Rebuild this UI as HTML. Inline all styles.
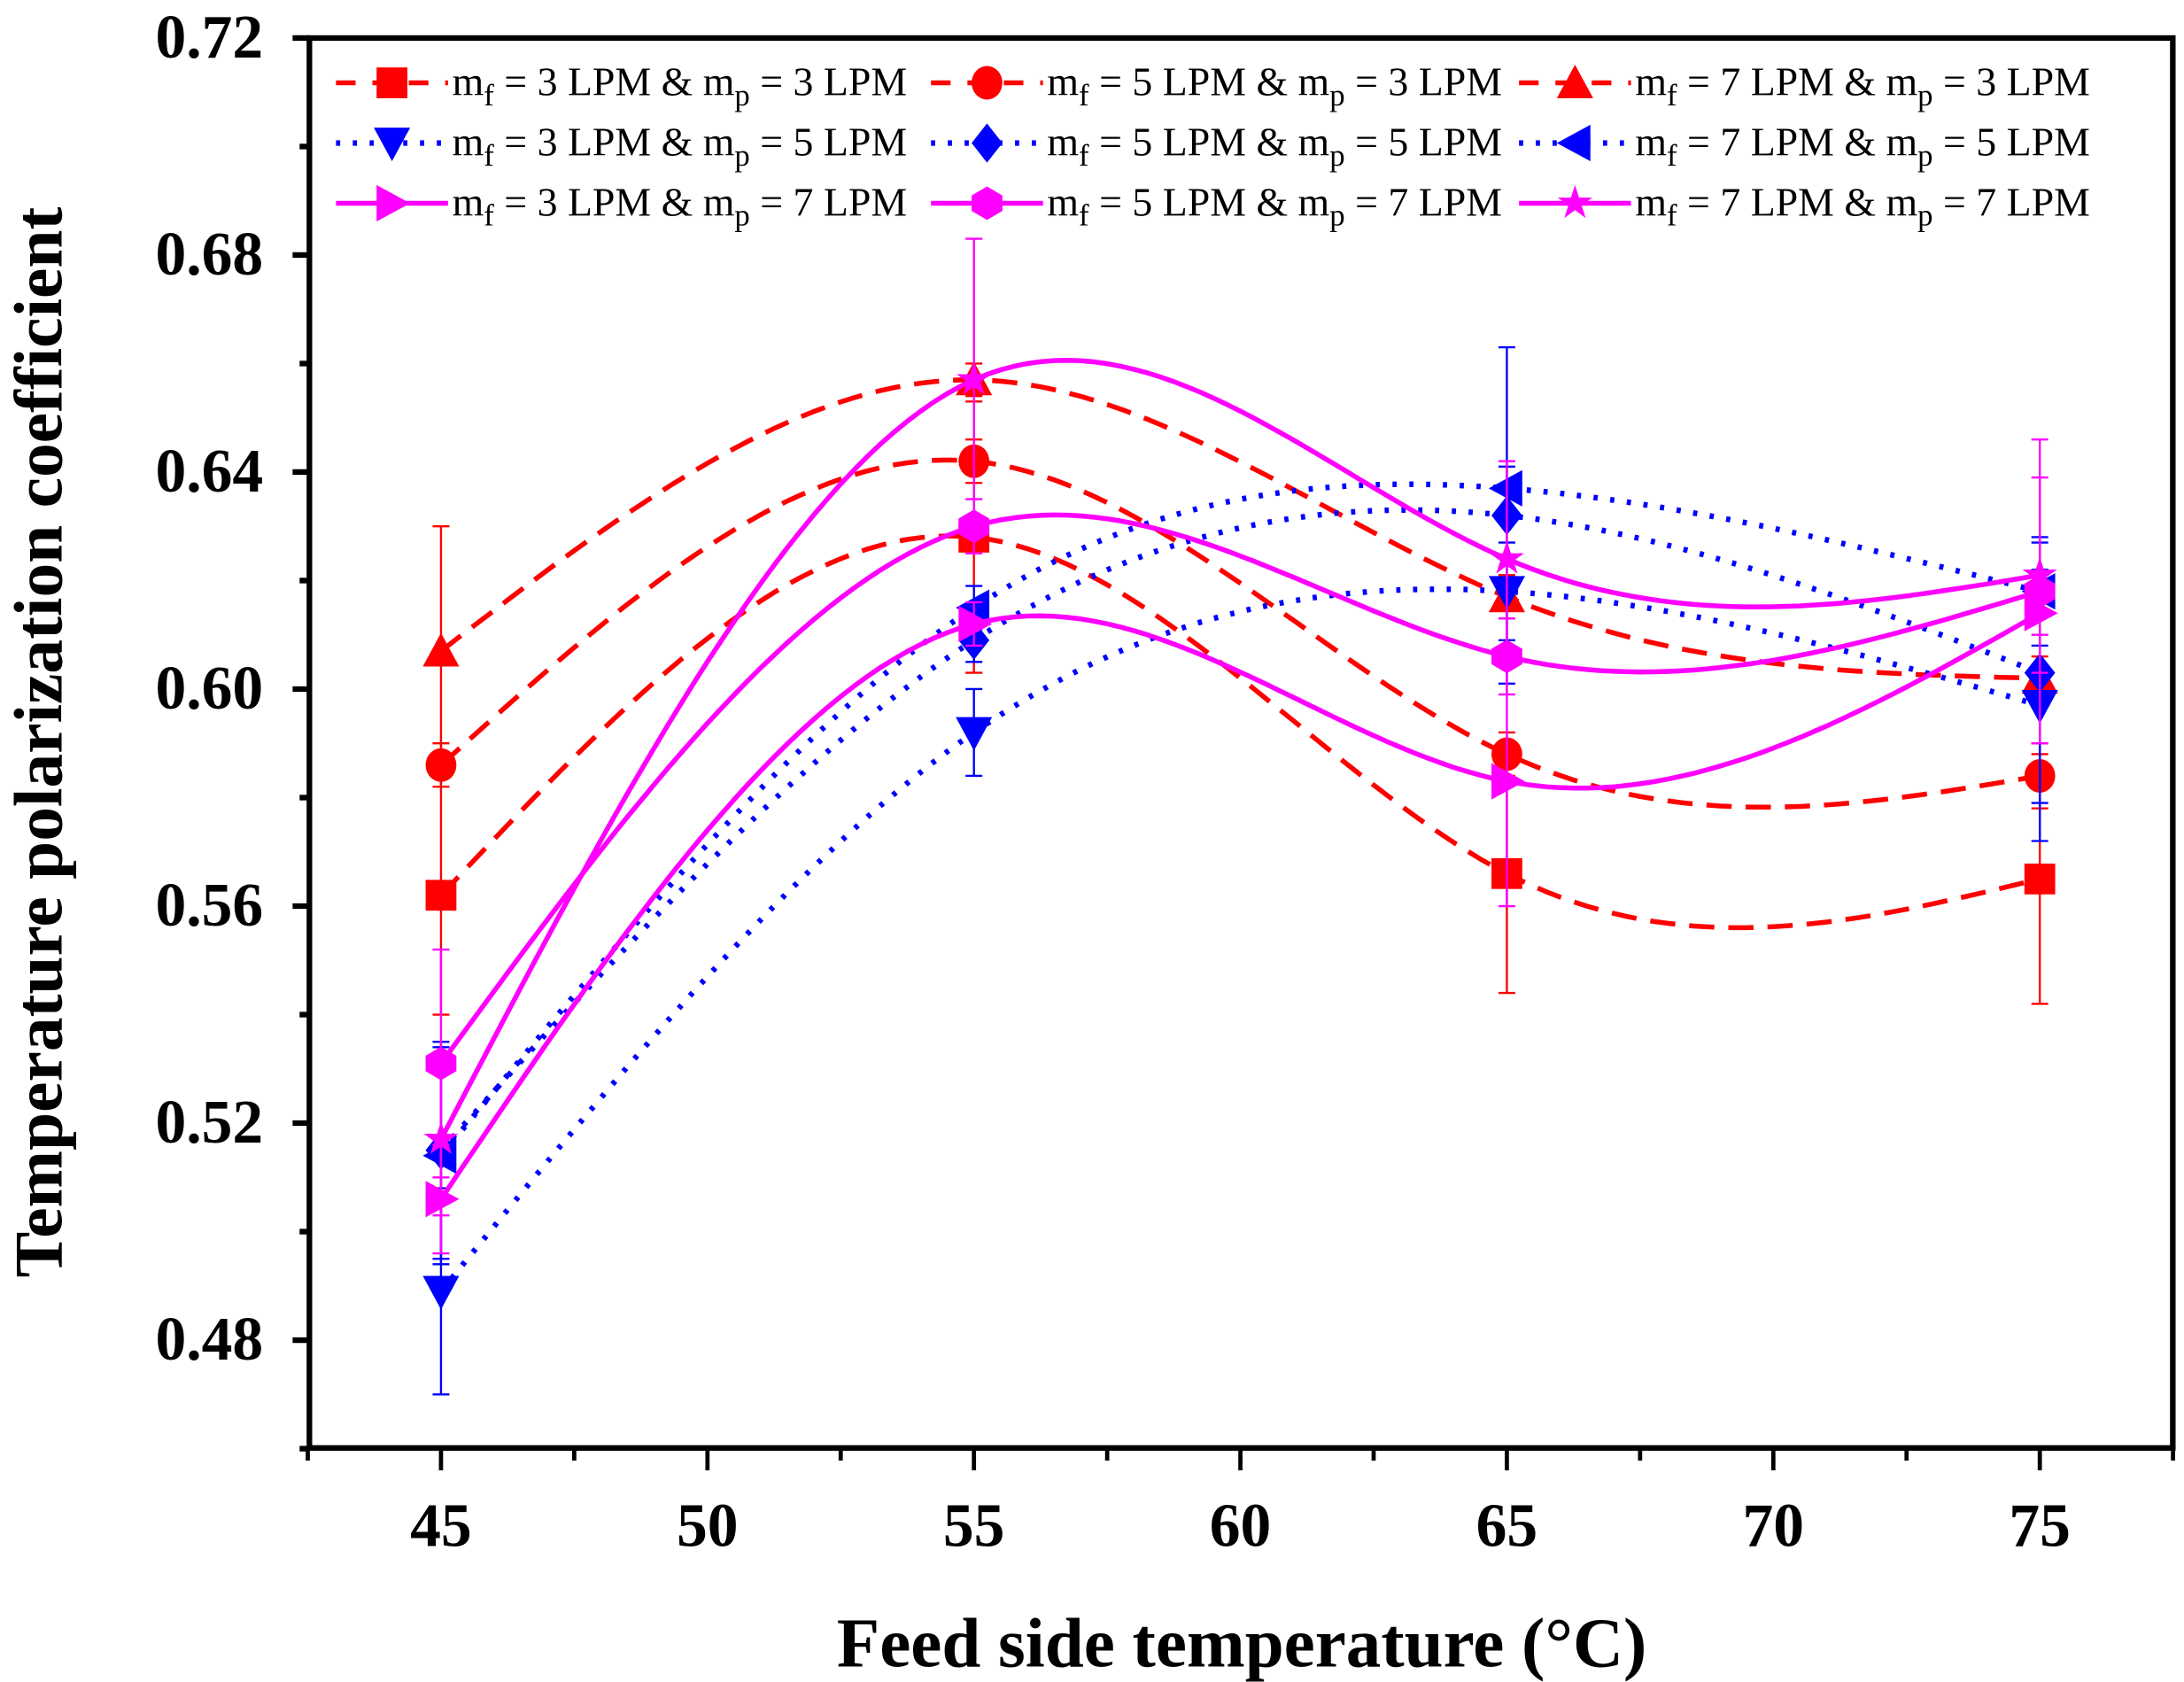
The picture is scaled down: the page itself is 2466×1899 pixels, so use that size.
<!DOCTYPE html>
<html><head><meta charset="utf-8"><style>
html,body{margin:0;padding:0;background:#fff}
svg{display:block}
text{font-family:"Liberation Serif",serif}
</style></head><body>
<svg id="chart" width="2466" height="1899" viewBox="0 0 1560 1201" xmlns="http://www.w3.org/2000/svg">
<g id="axes"></g>
<g id="series"></g>
<g id="legend"></g>
<text x="887" y="1190" font-size="50" font-weight="bold" text-anchor="middle">Feed side temperature (°C)</text>
<text transform="translate(44,530) rotate(-90)" font-size="49" font-weight="bold" text-anchor="middle">Temperature polarization coefficient</text>
</svg>
<script>
const xCats=[45,55,65,75];
const yTicks=[0.48,0.52,0.56,0.60,0.64,0.68,0.72];
const xTicks=[45,50,55,60,65,70,75];
const s1=[0.562,0.628,0.566,0.565];
const s2=[0.586,0.642,0.588,0.584];
const s3=[0.607,0.657,0.617,0.602];
const s4=[0.489,0.592,0.618,0.597];
const s5=[0.515,0.609,0.632,0.603];
const s6=[0.514,0.615,0.637,0.618];
const s7=[0.506,0.612,0.583,0.614];
const s8=[0.531,0.630,0.606,0.618];
const s9=[0.517,0.657,0.624,0.621];
const e1=[0.022,0.025,0.022,0.023];
const e2=[0.004,0.004,0.004,0.006];
const e3=[0.023,0.003,0.004,0.004];
const e4=[0.019,0.008,0.009,0.025];
const e5=[0.02,0.004,0.031,0.024];
const e6=[0.02,0.004,0.004,0.01];
const e7=[0.01,0.004,0.023,0.004];
const e8=[0.021,0.005,0.007,0.028];
const e9=[0.014,0.026,0.018,0.018];
const NS="http://www.w3.org/2000/svg";
const L=221,R=1552,T=27,B=1034;
const xs=v=>315+(v-45)*(1457-315)/30;
const ys=v=>27+(0.72-v)*(957-27)/0.24;
function mk(tag,attrs,parent){const e=document.createElementNS(NS,tag);for(const k in attrs)e.setAttribute(k,attrs[k]);parent.appendChild(e);return e;}
const ax=document.getElementById('axes');
const frame=mk('rect',{x:L,y:T,width:R-L,height:B-T,fill:'none',stroke:'#000','stroke-width':4},ax);


yTicks.forEach(v=>{const t=mk('line',{x1:L-12,x2:L,y1:ys(v),y2:ys(v),stroke:'#000','stroke-width':4},ax);


const m=mk('line',{x1:L-7,x2:L,y1:ys(v-0.02),y2:ys(v-0.02),stroke:'#000','stroke-width':4},ax);


const tx=mk('text',{x:188,y:ys(v)+14,'font-size':44,'font-weight':'bold','text-anchor':'end'},ax);tx.textContent=v.toFixed(2);

});
xTicks.forEach(v=>{const t=mk('line',{x1:xs(v),x2:xs(v),y1:B,y2:B+16,stroke:'#000','stroke-width':3},ax);


const tx=mk('text',{x:xs(v),y:1104,'font-size':44,'font-weight':'bold','text-anchor':'middle'},ax);tx.textContent=v;

});
[42.5,47.5,52.5,57.5,62.5,67.5,72.5,77.5].forEach(v=>{const t=mk('line',{x1:xs(v),x2:xs(v),y1:B,y2:B+9,stroke:'#000','stroke-width':3},ax);

});
const RED='#ff0000',BLUE='#0000ff',MAG='#ff00ff';
const specs=[
 {d:s1,e:e1,c:RED,dash:'18,10',m:'square',f:'3',p:'3'},
 {d:s2,e:e2,c:RED,dash:'18,10',m:'circle',f:'5',p:'3'},
 {d:s3,e:e3,c:RED,dash:'18,10',m:'up',f:'7',p:'3'},
 {d:s4,e:e4,c:BLUE,dash:'3,9',m:'down',f:'3',p:'5'},
 {d:s5,e:e5,c:BLUE,dash:'3,9',m:'diamond',f:'5',p:'5'},
 {d:s6,e:e6,c:BLUE,dash:'3,9',m:'left',f:'7',p:'5'},
 {d:s7,e:e7,c:MAG,dash:'',m:'right',f:'3',p:'7'},
 {d:s8,e:e8,c:MAG,dash:'',m:'hex',f:'5',p:'7'},
 {d:s9,e:e9,c:MAG,dash:'',m:'star',f:'7',p:'7'}];
// natural cubic spline
function spline(d){const n=d.length,h=10;const M=new Array(n).fill(0);
 const a=[],b=[],c=[],r=[];for(let i=1;i<n-1;i++){a.push(h);b.push(4*h);c.push(h);r.push(6*(d[i+1]-2*d[i]+d[i-1])/h);}
 const m=r.length;for(let i=1;i<m;i++){const w=a[i]/b[i-1];b[i]-=w*c[i-1];r[i]-=w*r[i-1];}
 const sol=new Array(m);sol[m-1]=r[m-1]/b[m-1];for(let i=m-2;i>=0;i--)sol[i]=(r[i]-c[i]*sol[i+1])/b[i];
 for(let i=0;i<m;i++)M[i+1]=sol[i];
 return x=>{let i=Math.min(n-2,Math.max(0,Math.floor((x-xCats[0])/h)));const t0=x-xCats[i],t1=xCats[i+1]-x;
  return M[i]*t1*t1*t1/(6*h)+M[i+1]*t0*t0*t0/(6*h)+(d[i]/h-M[i]*h/6)*t1+(d[i+1]/h-M[i+1]*h/6)*t0;};}
function marker(type,cx,cy,c,g){const r=11;let pts;
 if(type==='square')return mk('rect',{x:cx-r,y:cy-r,width:2*r,height:2*r,fill:c},g);
 if(type==='circle')return mk('ellipse',{cx:cx,cy:cy,rx:r,ry:r+1,fill:c},g);
 if(type==='up')pts=[[0,-r-2],[r+2,r],[-r-2,r]];
 if(type==='down')pts=[[0,r+2],[r+2,-r],[-r-2,-r]];
 if(type==='left')pts=[[-r-2,0],[r,-r-2],[r,r+2]];
 if(type==='right')pts=[[r+2,0],[-r,-r-2],[-r,r+2]];
 if(type==='diamond')pts=[[0,-r-3],[r,0],[0,r+3],[-r,0]];
 if(type==='hex')pts=[[0,-r-1],[r,-r/2],[r,r/2],[0,r+1],[-r,r/2],[-r,-r/2]];
 if(type==='star'){pts=[];for(let k=0;k<10;k++){const a=-Math.PI/2+k*Math.PI/5,rr=k%2?r*0.45:r+2;pts.push([rr*Math.cos(a),rr*Math.sin(a)]);}}
 return mk('polygon',{points:pts.map(p=>(cx+p[0])+','+(cy+p[1])).join(' '),fill:c},g);}
const sg=document.getElementById('series');
specs.forEach((s,si)=>{const g=mk('g',{},sg);
 
 
 const f=spline(s.d);
 let dstr='';for(let k=0;k<=120;k++){const x=45+30*k/120;dstr+=(k?'L':'M')+xs(x).toFixed(1)+','+ys(f(x)).toFixed(1);}
 const ln=mk('path',{d:dstr,fill:'none',stroke:s.c,'stroke-width':s.dash==='3,9'?4:3.5,'stroke-dasharray':s.dash},g);
 
 
 s.d.forEach((v,i)=>{const x=xs(xCats[i]);
  const eb=mk('path',{d:`M${x},${ys(v+s.e[i])}V${ys(v-s.e[i])}M${x-6},${ys(v+s.e[i])}h12M${x-6},${ys(v-s.e[i])}h12`,stroke:s.c,'stroke-width':1.5,fill:'none'},g);
  
  
  const m=marker(s.m,x,ys(v),s.c,g);
  
  });
});
const lg=document.getElementById('legend');
const colX=[240,665,1085],rowY=[59,102,145];
specs.forEach((s,si)=>{const col=si%3,row=Math.floor(si/3);
 const x0=colX[col],y0=rowY[row];const g=mk('g',{},lg);
 
 
 mk('line',{x1:x0,x2:x0+80,y1:y0,y2:y0,stroke:s.c,'stroke-width':s.dash==='3,9'?4:3.5,'stroke-dasharray':s.dash==='18,10'?'14,12':s.dash},g);
 marker(s.m,x0+40,y0,s.c,g);
 const t=mk('text',{x:x0+83,y:y0+9,'font-size':29},g);
 t.innerHTML=`m<tspan font-size="22" dy="7">f</tspan><tspan dy="-7"> = ${s.f} LPM &amp; m</tspan><tspan font-size="22" dy="7">p</tspan><tspan dy="-7"> = ${s.p} LPM</tspan>`;
});
</script>
</body></html>
